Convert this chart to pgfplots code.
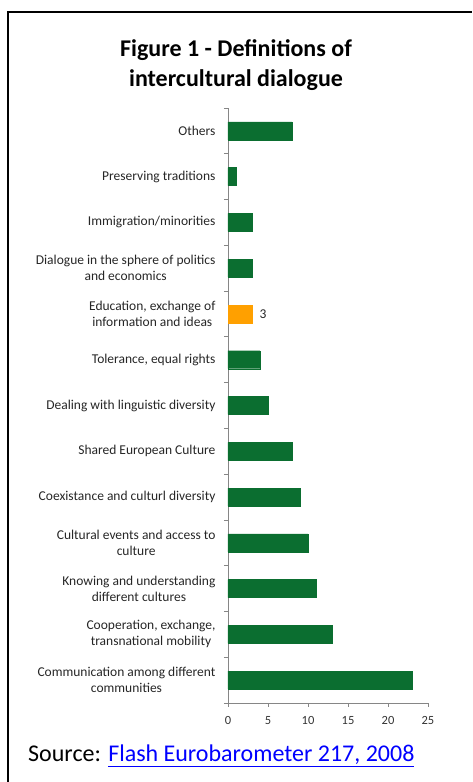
\documentclass[border=0pt]{standalone}
\usepackage{pgfplots}
\pgfplotsset{compat=1.18}
\usepackage{fontspec}
\setmainfont{Carlito}
\definecolor{bargreen}{RGB}{11,110,48}
\definecolor{barorange}{RGB}{255,160,0}
\definecolor{axgray}{RGB}{134,134,134}
\definecolor{linkblue}{RGB}{0,0,255}
\begin{document}
\begin{tikzpicture}[x=1pt,y=1pt]
\path[use as bounding box] (0,0) rectangle (472,782);
\draw[line width=2pt] (8,0) -- (8,770) -- (472,770);
\node[font=\fontsize{24}{30}\selectfont\bfseries, align=center] at (236,717) {Figure 1 - Definitions of\\intercultural dialogue};
\node[font=\fontsize{24}{28}\selectfont, anchor=base west, inner sep=0pt] at (28,20) {Source: \textcolor{linkblue}{\underline{Flash Eurobarometer 217, 2008}}};
\begin{axis}[
  at={(228pt,79pt)}, anchor=south west,
  scale only axis, width=200pt, height=595pt,
  xbar, bar width=18pt, bar shift=0pt,
  xmin=0, xmax=25, ymin=-0.5, ymax=12.5,
  axis x line*=bottom, axis y line*=left,
  axis line style={axgray, line width=0.8pt},
  tick align=outside, major tick length=4pt,
  tick style={axgray, line width=0.8pt},
  xtick={0,5,10,15,20,25},
  xticklabel style={font=\fontsize{12.5}{14}\selectfont, text=black!80, yshift=-6pt},
  /pgf/number format/assume math mode=true,
  ytick={-0.5,0.5,1.5,2.5,3.5,4.5,5.5,6.5,7.5,8.5,9.5,10.5,11.5,12.5},
  yticklabels={},
  extra y ticks={0,1,2,3,4,5,6,7,8,9,10,11,12},
  extra y tick style={major tick length=0pt, yticklabel style={align=center, font=\fontsize{13.5}{16}\selectfont, text=black!85, xshift=-9pt}},
  extra y tick labels={
    {Communication among different\\communities},
    {Cooperation, exchange,\\transnational mobility},
    {Knowing and understanding\\different cultures},
    {Cultural events and access to\\culture},
    {Coexistance and culturl diversity},
    {Shared European Culture},
    {Dealing with linguistic diversity},
    {Tolerance, equal rights},
    {Education, exchange of\\information and ideas},
    {Dialogue in the sphere of politics\\and economics},
    {Immigration/minorities},
    {Preserving traditions},
    {Others}},
  clip=false,
]
\addplot[fill=bargreen, draw=bargreen] coordinates {
  (23,0) (13,1) (11,2) (10,3) (9,4) (8,5) (5,6) (4,7) (3,9) (3,10) (1,11) (8,12)};
\addplot[fill=barorange, draw=barorange,
  nodes near coords, nodes near coords align={horizontal},
  every node near coord/.append style={font=\fontsize{13.5}{15}\selectfont, text=black!85, xshift=4pt}] coordinates {(3,8)};
\end{axis}
\end{tikzpicture}
\end{document}
